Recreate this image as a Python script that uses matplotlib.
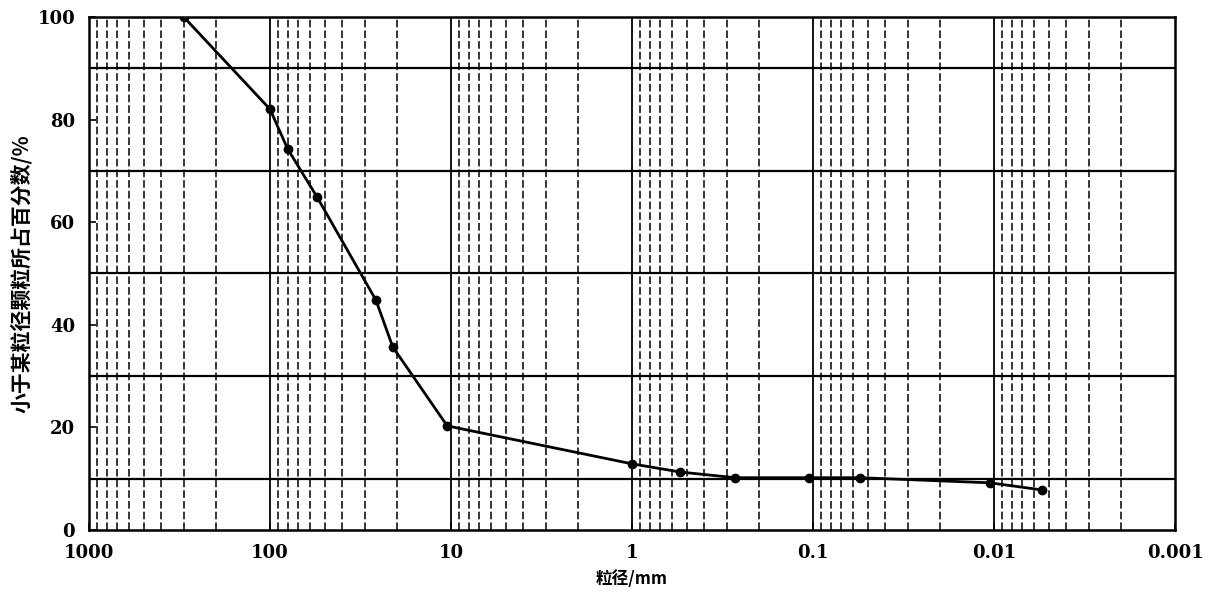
import matplotlib.pyplot as plt
import numpy as np

plt.rcParams['font.family'] = ['DejaVu Serif', 'Noto Sans CJK SC']

diametro = [300, 100, 80, 55, 26, 21, 10.5, 1.0, 0.54, 0.27, 0.105, 0.055, 0.0105, 0.0054]
passante = [100, 82, 74.3, 64.9, 44.8, 35.7, 20.3, 12.9, 11.3, 10.2, 10.2, 10.2, 9.2, 7.8]

xticks = [1000, 100, 10, 1, 0.1, 0.01, 0.001]
xlabels = ['1000', '100', '10', '1', '0.1', '0.01', '0.001']
linhas_h = [10, 30, 50, 70, 90]

fig = plt.figure(figsize=(12.13, 6.03), dpi=100)
ax = fig.add_axes([0.0734, 0.121, 0.8953, 0.851])

ax.set_xscale('log')
ax.set_xlim(1000, 0.001)
ax.set_ylim(0, 100)

# linhas verticais tracejadas em cada subdivisão logarítmica
for dec in [100, 10, 1, 0.1, 0.01, 0.001]:
    for k in range(2, 10):
        ax.axvline(dec * k, color='black', lw=1.1, ls=(0, (5, 2)), zorder=1)
for d in xticks[1:-1]:
    ax.axvline(d, color='black', lw=1.3, zorder=1)

for y in linhas_h:
    ax.axhline(y, color='black', lw=1.6, zorder=1)

ax.plot(diametro, passante, color='black', lw=2, marker='o', ms=6, zorder=3)

ax.set_xticks(xticks)
ax.set_xticklabels(xlabels, fontsize=13, fontweight='bold')
ax.xaxis.set_minor_locator(plt.NullLocator())
ax.set_yticks([0, 20, 40, 60, 80, 100])
ax.set_yticklabels(['0', '20', '40', '60', '80', '100'], fontsize=13, fontweight='bold')
ax.tick_params(axis='both', direction='in', length=5, width=1.2, pad=10)

for s in ax.spines.values():
    s.set_linewidth(1.8)

ax.set_xlabel('粒径/mm', fontsize=12, fontweight='bold', labelpad=6,
              family=['Noto Sans CJK SC', 'DejaVu Sans'])
ax.set_ylabel('小于某粒径颗粒所占百分数/%', fontsize=15, fontweight='bold', labelpad=4,
              family=['Noto Sans CJK SC', 'DejaVu Sans'])

fig.savefig('out.png')
